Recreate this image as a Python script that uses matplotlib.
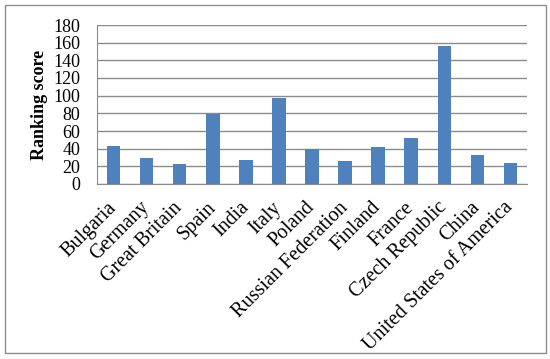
import matplotlib
matplotlib.use("Agg")
import matplotlib.pyplot as plt
from matplotlib.patches import Rectangle

countries = ["Bulgaria", "Germany", "Great Britain", "Spain", "India", "Italy",
             "Poland", "Russian Federation", "Finland", "France", "Czech Republic",
             "China", "United States of America"]
scores = [43, 30, 23, 79.5, 27, 97, 39.5, 26, 42, 52, 156.5, 33, 24]
yticks = [0, 20, 40, 60, 80, 100, 120, 140, 160, 180]

plt.rcParams['font.family'] = ['Liberation Serif', 'DejaVu Serif']

fig = plt.figure(figsize=(5.5, 3.59), dpi=100)
ax = fig.add_axes([97/550, 1-184/359, (527-97)/550, (184-25)/359])

x = list(range(len(countries)))
ax.bar(x, scores, width=0.41, color="#4F81BD", zorder=3)
ax.set_xlim(-0.5, len(countries)-0.5)
ax.set_ylim(0, 180)
ax.set_yticks(yticks)
ax.set_yticklabels([str(v) for v in yticks], fontsize=13)
ax.yaxis.grid(True, color="#8c8c8c", linewidth=1.0, zorder=0)
ax.set_xticks(x)
ax.set_xticklabels(countries, rotation=45, ha="right", va="center",
                   rotation_mode="anchor", fontsize=14.5)
ax.tick_params(axis="y", length=0, pad=12)
ax.tick_params(axis="x", length=0, pad=15)
for s in ["top", "right"]:
    ax.spines[s].set_visible(False)
ax.spines["left"].set_color("#8c8c8c")
ax.spines["bottom"].set_color("#8c8c8c")
ax.set_ylabel("Ranking score", fontsize=13, fontweight="bold", labelpad=4)

fig.patches.append(Rectangle((5/550, 1-353/359), 541/550, 348/359, transform=fig.transFigure,
                             fill=False, edgecolor="#8c8c8c", linewidth=1.0))

fig.savefig("out.png", dpi=100)
